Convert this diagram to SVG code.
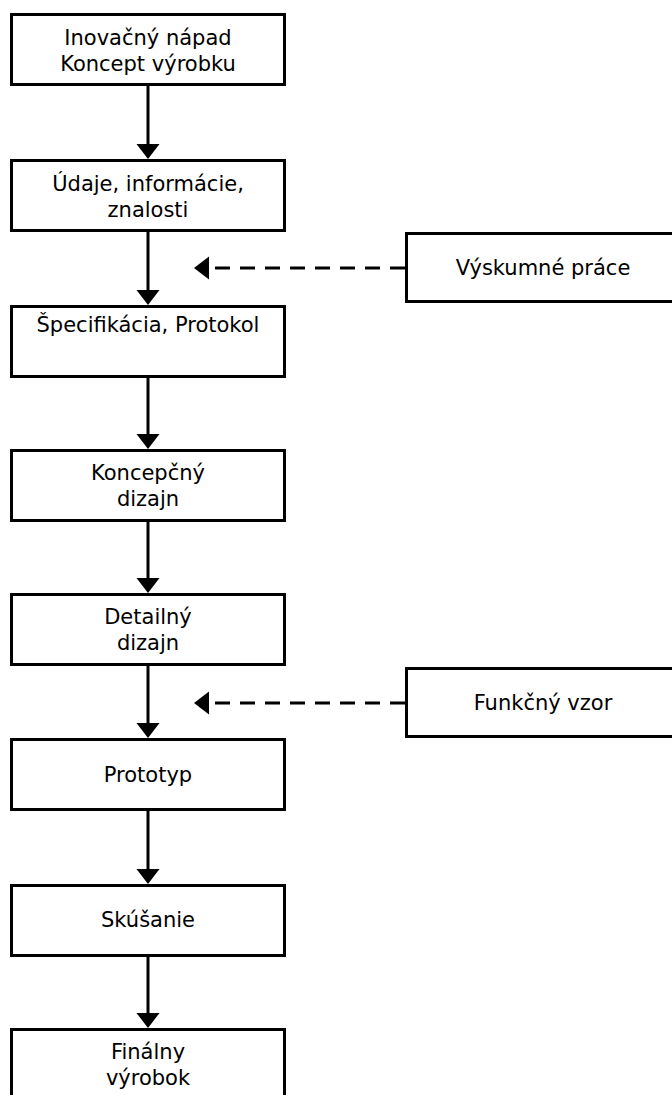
<svg xmlns="http://www.w3.org/2000/svg" width="672" height="1095" viewBox="0 0 672 1095">
  <style>
    .box { fill: #ffffff; stroke: #000000; stroke-width: 3; }
    .lbl { font-family: "DejaVu Sans", Verdana, sans-serif; font-size: 21px; fill: #000000; text-anchor: middle; }
    .flow { stroke: #000000; stroke-width: 3; fill: none; }
    .feed { stroke: #000000; stroke-width: 3; fill: none; stroke-dasharray: 15 10; }
  </style>
  <defs>
    <marker id="head" viewBox="0 -12 15 24" markerWidth="15" markerHeight="24" refX="0" refY="0" markerUnits="userSpaceOnUse" orient="auto">
      <path d="M0,-11.5 L15,0 L0,11.5 Z" fill="#000000"/>
    </marker>
  </defs>
  <rect width="672" height="1095" fill="#ffffff"/>

  <!-- connectors -->
  <g id="connectors">
    <line class="flow" x1="148" y1="86" x2="148" y2="144" marker-end="url(#head)"/>
    <line class="flow" x1="148" y1="231" x2="148" y2="290" marker-end="url(#head)"/>
    <line class="flow" x1="148" y1="377" x2="148" y2="434" marker-end="url(#head)"/>
    <line class="flow" x1="148" y1="521" x2="148" y2="578" marker-end="url(#head)"/>
    <line class="flow" x1="148" y1="665" x2="148" y2="723" marker-end="url(#head)"/>
    <line class="flow" x1="148" y1="810" x2="148" y2="869" marker-end="url(#head)"/>
    <line class="flow" x1="148" y1="956" x2="148" y2="1013" marker-end="url(#head)"/>
    <line class="feed" x1="405" y1="268" x2="209" y2="268" marker-end="url(#head)"/>
    <line class="feed" x1="405" y1="703" x2="209" y2="703" marker-end="url(#head)"/>
  </g>

  <!-- main chain -->
  <g id="n1">
    <rect class="box" x="11.5" y="14.5" width="273" height="70"/>
    <text class="lbl" x="148" y="45">Inovačný nápad</text>
    <text class="lbl" x="148" y="71">Koncept výrobku</text>
  </g>
  <g id="n2">
    <rect class="box" x="11.5" y="160.5" width="273" height="70"/>
    <text class="lbl" x="148" y="191">Údaje, informácie,</text>
    <text class="lbl" x="148" y="217">znalosti</text>
  </g>
  <g id="n3">
    <rect class="box" x="11.5" y="306.5" width="273" height="70"/>
    <text class="lbl" x="148" y="332">Špecifikácia, Protokol</text>
  </g>
  <g id="n4">
    <rect class="box" x="11.5" y="450.5" width="273" height="70"/>
    <text class="lbl" x="148" y="480">Koncepčný</text>
    <text class="lbl" x="148" y="506">dizajn</text>
  </g>
  <g id="n5">
    <rect class="box" x="11.5" y="594.5" width="273" height="70"/>
    <text class="lbl" x="148" y="624">Detailný</text>
    <text class="lbl" x="148" y="650">dizajn</text>
  </g>
  <g id="n6">
    <rect class="box" x="11.5" y="739.5" width="273" height="70"/>
    <text class="lbl" x="148" y="782">Prototyp</text>
  </g>
  <g id="n7">
    <rect class="box" x="11.5" y="885.5" width="273" height="70"/>
    <text class="lbl" x="148" y="927">Skúšanie</text>
  </g>
  <g id="n8">
    <rect class="box" x="11.5" y="1029.5" width="273" height="80"/>
    <text class="lbl" x="148" y="1059">Finálny</text>
    <text class="lbl" x="148" y="1085">výrobok</text>
  </g>

  <!-- side inputs -->
  <g id="s1">
    <rect class="box" x="406.5" y="233.5" width="280" height="68"/>
    <text class="lbl" x="543" y="275">Výskumné práce</text>
  </g>
  <g id="s2">
    <rect class="box" x="406.5" y="668.5" width="280" height="68"/>
    <text class="lbl" x="543" y="710">Funkčný vzor</text>
  </g>
</svg>
